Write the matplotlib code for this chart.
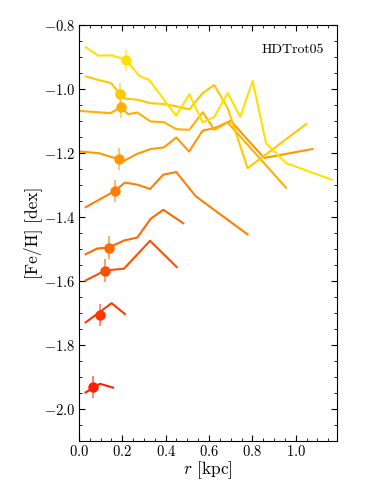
import matplotlib
matplotlib.use("Agg")
import matplotlib.pyplot as plt
from matplotlib.ticker import MultipleLocator
import numpy as np

plt.rcParams["font.family"] = "serif"
plt.rcParams["font.serif"] = ["cmr10", "DejaVu Serif"]
plt.rcParams["mathtext.fontset"] = "cm"
plt.rcParams["axes.formatter.use_mathtext"] = True
plt.rcParams["font.size"] = 10.5

# radial [Fe/H] profiles, lowest (red) to highest (yellow)
r_a = [0.031, 0.097, 0.157]
feh_a = [-1.949, -1.922, -1.934]
r_b = [0.031, 0.151, 0.212]
feh_b = [-1.730, -1.670, -1.704]
r_c = [0.031, 0.120, 0.208, 0.328, 0.451]
feh_c = [-1.599, -1.568, -1.562, -1.475, -1.557]
r_d = [0.031, 0.085, 0.138, 0.208, 0.269, 0.331, 0.389, 0.481]
feh_d = [-1.517, -1.499, -1.496, -1.474, -1.465, -1.406, -1.378, -1.420]
r_e = [0.031, 0.166, 0.212, 0.273, 0.328, 0.389, 0.449, 0.539, 0.778]
feh_e = [-1.370, -1.319, -1.293, -1.300, -1.313, -1.268, -1.260, -1.336, -1.455]
r_f = [0.008, 0.092, 0.185, 0.208, 0.269, 0.331, 0.392, 0.449, 0.508, 0.571, 0.624, 0.700, 0.854, 1.077]
feh_f = [-1.196, -1.201, -1.220, -1.225, -1.203, -1.188, -1.183, -1.152, -1.196, -1.130, -1.123, -1.100, -1.216, -1.188]
r_g = [0.008, 0.146, 0.192, 0.227, 0.269, 0.331, 0.392, 0.449, 0.509, 0.571, 0.624, 0.686, 0.955]
feh_g = [-1.069, -1.076, -1.057, -1.079, -1.074, -1.102, -1.104, -1.126, -1.128, -1.073, -1.128, -1.105, -1.309]
r_h = [0.032, 0.089, 0.148, 0.191, 0.209, 0.271, 0.332, 0.386, 0.455, 0.509, 0.571, 0.624, 0.686, 0.778, 1.048]
feh_h = [-0.961, -0.972, -0.982, -1.017, -1.030, -1.034, -1.045, -1.047, -1.055, -1.064, -1.013, -0.988, -1.060, -1.248, -1.110]
r_i = [0.032, 0.089, 0.151, 0.217, 0.278, 0.324, 0.448, 0.509, 0.571, 0.624, 0.686, 0.744, 0.801, 0.863, 0.955, 1.166]
feh_i = [-0.870, -0.896, -0.895, -0.909, -0.959, -0.972, -1.084, -1.017, -1.105, -1.088, -1.013, -1.088, -0.975, -1.170, -1.232, -1.284]

# central points with error bars
mark_r = [0.065, 0.095, 0.120, 0.138, 0.166, 0.185, 0.192, 0.191, 0.217]
mark_feh = [-1.932, -1.708, -1.568, -1.496, -1.319, -1.220, -1.057, -1.017, -0.909]
mark_err = [0.034, 0.034, 0.036, 0.036, 0.035, 0.034, 0.035, 0.035, 0.035]

label = "HDTrot05"

profiles = [(r_a, feh_a), (r_b, feh_b), (r_c, feh_c), (r_d, feh_d), (r_e, feh_e),
            (r_f, feh_f), (r_g, feh_g), (r_h, feh_h), (r_i, feh_i)]
colors = plt.cm.autumn(np.linspace(0.12, 0.88, len(profiles)))

fig = plt.figure(figsize=(3.74, 4.98), dpi=100)
ax = fig.add_axes([0.211, 0.115, 0.690, 0.835])

for k, (r, feh) in enumerate(profiles):
    ax.plot(r, feh, color=colors[k], lw=1.5)
    ecol = colors[k].copy()
    ecol[3] = 0.6
    ax.errorbar(mark_r[k], mark_feh[k], yerr=mark_err[k], fmt="o", ms=6.5,
                color=colors[k], ecolor=ecol, elinewidth=1.3, capsize=0)

ax.text(0.95, 0.955, label, transform=ax.transAxes, ha="right", va="top", fontsize=10)

ax.set_xlim(0, 1.19)
ax.set_ylim(-2.1, -0.8)
ax.xaxis.set_major_locator(MultipleLocator(0.2))
ax.xaxis.set_minor_locator(MultipleLocator(0.05))
ax.yaxis.set_major_locator(MultipleLocator(0.2))
ax.yaxis.set_minor_locator(MultipleLocator(0.05))
ax.tick_params(which="both", direction="in", top=True, right=True, pad=2.5)
ax.tick_params(which="major", length=4)
ax.tick_params(which="minor", length=2)
ax.set_xlabel("$r$ [kpc]", fontsize=12.5, labelpad=0)
ax.set_ylabel("[Fe/H] [dex]", fontsize=12.5, labelpad=1)

fig.savefig("out.png", dpi=100)
